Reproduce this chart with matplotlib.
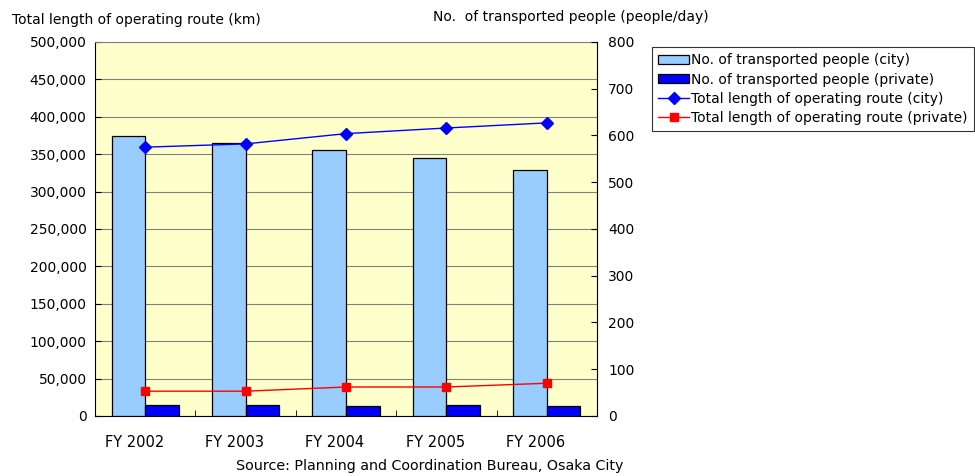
import matplotlib
matplotlib.use("Agg")
import matplotlib.pyplot as plt
import matplotlib.transforms as mtransforms
import numpy as np
from matplotlib.ticker import FuncFormatter
from matplotlib.patches import Patch
from matplotlib.lines import Line2D

plt.rcParams['font.family'] = ['DejaVu Sans']

categories = ["FY 2002", "FY 2003", "FY 2004", "FY 2005", "FY 2006"]
people_city = [374000, 365000, 355000, 344500, 328500]
people_private = [14700, 14500, 13000, 14500, 13000]
route_city = [575, 582, 604, 616, 627]
route_private = [53, 53, 62, 62, 70]

left_ticks = list(range(0, 500001, 50000))
right_ticks = list(range(0, 801, 100))

FS = 10

fig = plt.figure(figsize=(9.75, 4.76), dpi=100)
ax = fig.add_axes([0.0974, 0.1261, 0.5149, 0.7857])
ax.set_facecolor('#FFFFCC')

x = np.arange(len(categories))
w = 0.335
ax.bar(x - w / 2, people_city, width=w, color='#99CCFF', edgecolor='black', linewidth=0.9, zorder=3)
ax.bar(x + w / 2, people_private, width=w, color='#0000FF', edgecolor='black', linewidth=0.9, zorder=3)

ax.set_ylim(0, 500000)
ax.set_yticks(left_ticks)
ax.yaxis.set_major_formatter(FuncFormatter(lambda v, p: f"{int(v):,}"))
ax.grid(axis='y', color='#808080', linewidth=0.8, zorder=1)
ax.set_axisbelow(True)
ax.set_xlim(-0.5, len(categories) - 0.5)
ax.set_xticks(x)
ax.set_xticklabels(categories)
ax.set_xticks(np.arange(len(categories) + 1) - 0.5, minor=True)
ax.tick_params(axis='x', which='major', length=0, pad=14, labelsize=10.5)
ax.tick_params(axis='x', which='minor', length=4, direction='in', color='black')
ax.tick_params(axis='y', length=4, direction='in', labelsize=FS, pad=6)
offset = mtransforms.ScaledTranslation(-11 / 100, 0, fig.dpi_scale_trans)
for lbl in ax.get_xticklabels():
    lbl.set_transform(lbl.get_transform() + offset)

for s in ['top', 'right']:
    ax.spines[s].set_color('#808080')
ax.spines['bottom'].set_color('black')
ax.spines['left'].set_color('black')

ax2 = ax.twinx()
ax2.plot(x, route_city, color='#0000FF', marker='D', markersize=6.5, linewidth=1, zorder=4)
ax2.plot(x, route_private, color='#FF0000', marker='s', markersize=6, linewidth=1, zorder=4)
ax2.set_ylim(0, 800)
ax2.set_yticks(right_ticks)
ax2.tick_params(axis='y', length=4, direction='in', labelsize=FS, pad=8)
ax2.spines['right'].set_color('black')
ax2.spines['top'].set_visible(False)
ax2.spines['left'].set_visible(False)
ax2.spines['bottom'].set_visible(False)

fig.text(12 / 975, 1 - 20 / 476, "Total length of operating route (km)", fontsize=FS, va='center', ha='left')
fig.text(433 / 975, 1 - 17 / 476, "No.  of transported people (people/day)", fontsize=FS, va='center', ha='left')
fig.text(430 / 975, 1 - 466 / 476, "Source: Planning and Coordination Bureau, Osaka City", fontsize=10.3, va='center', ha='center')

handles = [
    Patch(facecolor='#99CCFF', edgecolor='black', linewidth=0.9),
    Patch(facecolor='#0000FF', edgecolor='black', linewidth=0.9),
    Line2D([0], [0], color='#0000FF', marker='D', markersize=6, linewidth=1),
    Line2D([0], [0], color='#FF0000', marker='s', markersize=5.5, linewidth=1),
]
labels = [
    "No. of transported people (city)",
    "No. of transported people (private)",
    "Total length of operating route (city)",
    "Total length of operating route (private)",
]
leg = fig.legend(handles, labels, loc='upper left', bbox_to_anchor=(652 / 975, 1 - 47 / 476),
                 fontsize=FS, frameon=True, fancybox=False, shadow=False,
                 borderpad=0.45, labelspacing=0.38, handlelength=2.2, handletextpad=0.15,
                 borderaxespad=0, handleheight=0.6)
leg.get_frame().set_edgecolor('black')
leg.get_frame().set_linewidth(0.8)

fig.savefig("out.png", dpi=100)
